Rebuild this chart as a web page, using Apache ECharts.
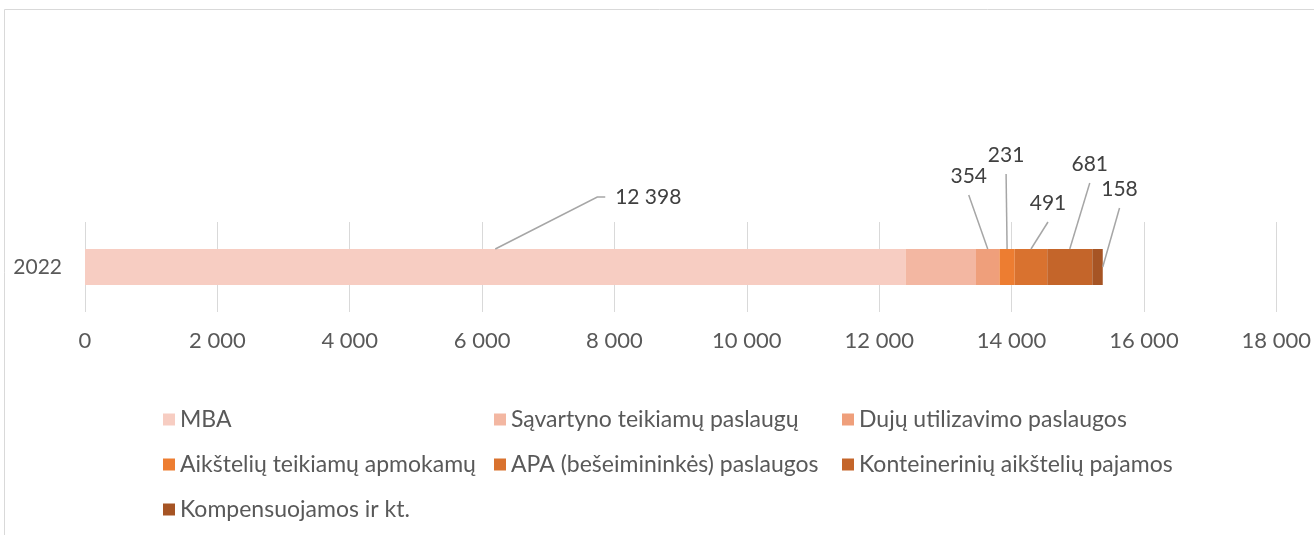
<!DOCTYPE html>
<html><head><meta charset="utf-8">
<script src="https://cdn.jsdelivr.net/npm/echarts@6/dist/echarts.min.js"></script>
<style>html,body{margin:0;padding:0;background:#fff}#c{width:1314px;height:535px}</style>
</head><body><div id="c"></div>
<script>
const categories = ['2022'];
const seriesNames = ['MBA','Sąvartyno teikiamų paslaugų','Dujų utilizavimo paslaugos','Aikštelių teikiamų apmokamų','APA (bešeimininkės) paslaugos','Konteinerinių aikštelių pajamos','Kompensuojamos ir kt.'];
const mba = [12398];
const savartyno = [1065];
const duju = [354];
const aikst = [231];
const apa = [491];
const kont = [681];
const komp = [158];
const xTicks = [0, 2000, 4000, 6000, 8000, 10000, 12000, 14000, 16000, 18000];

const values = [mba, savartyno, duju, aikst, apa, kont, komp];
const colors = ['#F7CDC2','#F3B7A2','#EF9F7B','#ED7D31','#D9722F','#C4652A','#A65424'];
const showLabel = [true, false, true, true, true, true, true];
// label centre offset relative to the segment's top-centre (layout only)
const nudge = [[153,-52],[0,0],[-19,-73],[-1,-94],[17,-46],[20,-85],[22,-60]];
const BAR_H = 36;
const FONT = 'Lato';
const fmt = v => String(Math.round(v)).replace(/\B(?=(\d{3})+(?!\d))/g, ' ');

function layoutFor(i) {
  return function (p) {
    const r = p.rect, lr = p.labelRect;
    const tx = r.x + r.width / 2 + nudge[i][0], ty = r.y + nudge[i][1];
    return { dx: tx - (lr.x + lr.width / 2), dy: ty - (lr.y + lr.height / 2) };
  };
}

// leader-line data: [segment start, segment value, series index]
const leaderData = [];
let cum = 0;
values.forEach((arr, i) => { if (showLabel[i]) leaderData.push([cum, arr[0], i]); cum += arr[0]; });

const chart = echarts.init(document.getElementById('c'));
const series = seriesNames.map((n, i) => ({
  name: n, type: 'bar', stack: 'total', data: values[i], barWidth: BAR_H,
  itemStyle: { color: colors[i] },
  label: { show: showLabel[i], position: 'top', distance: 5, color: '#404040', fontSize: 21, fontFamily: FONT,
    formatter: p => fmt(p.value) },
  labelLayout: layoutFor(i)
}));
series.push({
  type: 'custom', name: 'leaders', data: leaderData, z: 5, silent: true,
  renderItem: function (params, api) {
    const s = api.value(0), v = api.value(1), k = api.value(2);
    const c = api.coord([s + v / 2, 0]);
    const e = api.coord([s + v, 0]);
    const top = c[1] - BAR_H / 2;
    const lx = c[0] + nudge[k][0], ly = top + nudge[k][1];
    let pts;
    if (k === 0) pts = [[c[0], top], [lx - 51, ly], [lx - 43, ly]];
    else if (k === 6) pts = [[e[0], c[1]], [lx, ly + 19]];
    else pts = [[c[0], top], [lx, ly + 19]];
    return { type: 'polyline', shape: { points: pts }, style: { stroke: '#a6a6a6', lineWidth: 1.5, fill: null } };
  }
});
const legendText = { color: '#595959', fontSize: 23, lineHeight: 23, fontFamily: FONT };
const legBase = { orient: 'vertical', top: 403, itemGap: 22, itemWidth: 12, itemHeight: 12, textStyle: legendText, icon: 'rect' };
chart.setOption({
  animation: false,
  textStyle: { fontFamily: FONT },
  graphic: [{ type: 'rect', shape: { x: 4.5, y: 9.5, width: 1400, height: 600 }, style: { fill: 'none', stroke: '#d9d9d9', lineWidth: 1 }, silent: true }],
  grid: { left: 85, right: 36, top: 222, bottom: 223 },
  xAxis: { type: 'value', min: 0, max: 18000, interval: 2000,
    axisLine: { show: false }, axisTick: { show: false },
    splitLine: { lineStyle: { color: '#d9d9d9', width: 1 } },
    axisLabel: { margin: 18, color: '#595959', fontSize: 22, fontFamily: FONT, formatter: v => fmt(v) } },
  yAxis: { type: 'category', data: categories, axisLine: { show: false }, axisTick: { show: false },
    axisLabel: { margin: 23, color: '#595959', fontSize: 21, fontFamily: FONT } },
  legend: [
    Object.assign({}, legBase, { data: [seriesNames[0], seriesNames[3], seriesNames[6]], left: 158 }),
    Object.assign({}, legBase, { data: [seriesNames[1], seriesNames[4]], left: 489 }),
    Object.assign({}, legBase, { data: [seriesNames[2], seriesNames[5]], left: 837 })
  ],
  series: series
});
</script></body></html>
